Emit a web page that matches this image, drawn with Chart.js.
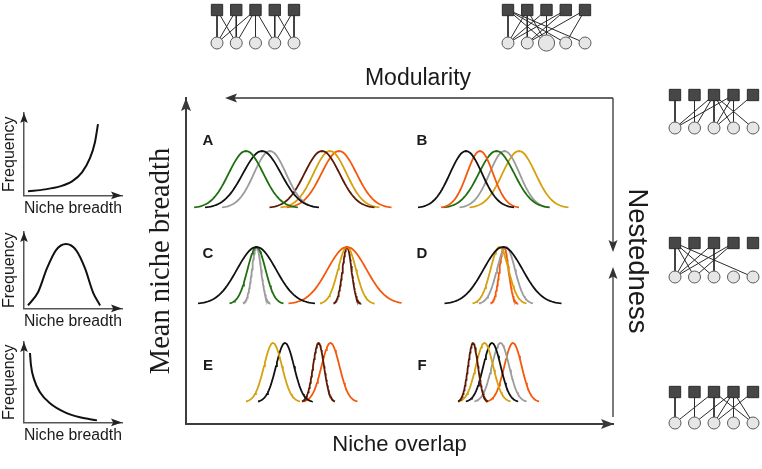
<!DOCTYPE html>
<html>
<head>
<meta charset="utf-8">
<script src="https://cdn.jsdelivr.net/npm/chart.js@4.4.1/dist/chart.umd.min.js"></script>
<style>
html,body{margin:0;padding:0;background:#fff;}
#stage{position:relative;width:762px;height:469px;overflow:hidden;background:#fff;}
#stage canvas{position:absolute;}
.lbl{position:absolute;font-family:"Liberation Sans",Arial,sans-serif;color:#1a1a1a;line-height:1;transform:translate(-50%,-50%);white-space:nowrap;}
.pl{font-weight:bold;font-size:15px;}
</style>
</head>
<body>
<div id="stage"></div>
<script>
// ---------------- DATA ----------------
// Panel curves: niche position (mean) and niche width (sd) of each species
const A_species = ['green','black','gray','brown','gold','orange'];
const A_mean    = [5.6, 7.2, 8.0, 13.2, 14.0, 14.9];
const A_sd      = [1.73, 1.9, 1.6, 1.75, 1.65, 1.75];

const B_species = ['black','orange','green','gray','gold'];
const B_mean    = [6.1, 7.5, 9.15, 9.95, 11.4];
const B_sd      = [1.6, 1.3, 1.77, 1.5, 1.65];

const C_species = ['black','green','gray','orange','gold','brown'];
const C_mean    = [6.65, 6.65, 6.65, 15.7, 15.7, 15.7];
const C_sd      = [1.95, 0.9, 0.45, 1.95, 0.9, 0.45];

const D_species = ['black','gold','gray','orange'];
const D_mean    = [9.8, 9.45, 10.1, 9.9];
const D_sd      = [1.95, 0.9, 0.9, 0.45];

const E_species = ['gold','black','brown','orange'];
const E_mean    = [8.3, 9.5, 12.85, 14.05];
const E_sd      = [0.9, 0.9, 0.55, 0.9];

const F_species = ['brown','gold','black','gray','orange'];
const F_mean    = [6.8, 7.95, 8.7, 9.55, 10.8];
const F_sd      = [0.5, 0.87, 0.87, 0.87, 0.87];

// Left mini plots: frequency vs niche breadth (read points, 0..10 units)
const mini1_x = [0.41, 2.14, 3.67, 4.90, 5.92, 6.73, 7.24, 7.55];
const mini1_y = [0.49, 0.73, 1.10, 1.71, 2.80, 4.51, 6.46, 8.66];
const mini2_x = [0.41, 1.43, 2.35, 3.27, 4.29, 5.31, 6.22, 7.04, 7.76];
const mini2_y = [0.39, 2.11, 5.26, 7.63, 8.42, 7.63, 5.26, 2.11, 0.39];
const mini3_x = [0.61, 0.71, 1.02, 1.63, 2.65, 4.18, 5.71, 7.45];
const mini3_y = [8.63, 7.13, 5.38, 3.75, 2.38, 1.25, 0.63, 0.25];

// Networks: edges [animal (square) index, plant (circle) index]
const netTL_edges = [[1,1],[1,2],[2,1],[2,2],[3,1],[3,2],[3,3],[3,4],[4,4],[4,5],[5,4],[5,5]];
const netTR_edges = [[1,1],[1,3],[1,4],[1,5],[2,1],[2,2],[2,3],[3,1],[3,3],[4,1],[4,2],[5,2],[5,4]];
const netTR_circleWeight = [1,1,1.35,1,1];
const netR1_edges = [[1,1],[2,2],[3,1],[3,2],[3,3],[3,4],[3,5],[4,1],[4,3],[4,4],[5,3]];
const netR2_edges = [[1,1],[1,2],[1,3],[1,5],[2,1],[3,1],[3,3],[4,1],[4,2]];
const netR3_edges = [[1,1],[2,2],[3,1],[3,3],[3,5],[4,2],[4,3],[4,4],[4,5],[5,3]];

// ---------------- STYLE ----------------
const COLORS = {green:'#1f6f10', black:'#111111', gray:'#9b9b9b', brown:'#5a1905', gold:'#d5a10e', orange:'#f5580a'};
const SANS = '"Liberation Sans", Arial, Helvetica, sans-serif';
const SERIF = '"Liberation Serif", "Times New Roman", serif';

Chart.defaults.font.family = SANS;
Chart.defaults.animation = false;
Chart.defaults.responsive = false;
Chart.defaults.maintainAspectRatio = false;
Chart.defaults.plugins.legend.display = false;
Chart.defaults.plugins.tooltip.enabled = false;

const stage = document.getElementById('stage');
function makeCanvas(left, top, w, h){
  const c = document.createElement('canvas');
  c.width = w; c.height = h;
  c.style.left = left+'px'; c.style.top = top+'px';
  c.style.width = w+'px'; c.style.height = h+'px';
  stage.appendChild(c);
  return c;
}
function addText(text, x, y, cls, style){
  const d = document.createElement('div');
  d.className = 'lbl ' + (cls||'');
  d.textContent = text;
  d.style.left = x+'px'; d.style.top = y+'px';
  if (style) Object.assign(d.style, style);
  stage.appendChild(d);
}
function arrowHead(ctx, x, y, dx, dy, len, half, color){
  ctx.beginPath();
  ctx.moveTo(x, y);
  ctx.lineTo(x - dx*len - dy*half, y - dy*len + dx*half);
  ctx.lineTo(x - dx*len*0.8, y - dy*len*0.8);
  ctx.lineTo(x - dx*len + dy*half, y - dy*len - dx*half);
  ctx.closePath();
  ctx.fillStyle = color;
  ctx.fill();
}
const hidden = (min,max)=>({type:'linear', display:false, min, max});

// ---------------- MAIN FRAME ----------------
const frameArrows = {
  id:'frameArrows',
  afterDraw(chart){
    const {ctx, chartArea:a} = chart;
    ctx.save();
    arrowHead(ctx, a.left, a.top, 0, -1, 13, 5, '#3a3a3a');
    arrowHead(ctx, a.right+1, a.bottom, 1, 0, 13, 5, '#3a3a3a');
    ctx.strokeStyle = '#333'; ctx.lineWidth = 1.3;
    // Modularity arrow
    ctx.beginPath(); ctx.moveTo(a.right, a.top); ctx.lineTo(a.left+48, a.top); ctx.stroke();
    arrowHead(ctx, a.left+39, a.top, -1, 0, 12, 4.5, '#333');
    // Nestedness arrows
    ctx.beginPath(); ctx.moveTo(a.right, a.top); ctx.lineTo(a.right, a.top+146); ctx.stroke();
    arrowHead(ctx, a.right, a.top+154, 0, 1, 12, 4.5, '#333');
    ctx.beginPath(); ctx.moveTo(a.right, a.top+177); ctx.lineTo(a.right, a.bottom-7); ctx.stroke();
    arrowHead(ctx, a.right, a.top+169, 0, -1, 12, 4.5, '#333');
    ctx.restore();
  }
};
const noGrid = {display:false, drawTicks:false};
new Chart(makeCanvas(0,0,762,469), {
  type:'scatter',
  data:{datasets:[]},
  options:{
    layout:{padding:{left:144, right:108.6, top:98, bottom:10.8}},
    scales:{
      x:{type:'linear', position:'bottom', min:0, max:1, grid:noGrid, ticks:{display:false},
         border:{display:true, color:'#3d3d3d', width:2},
         title:{display:true, text:'Niche overlap', color:'#1a1a1a', font:{size:22}, padding:{top:7.8, bottom:0}}},
      y:{type:'linear', position:'left', min:0, max:1, grid:noGrid, ticks:{display:false},
         border:{display:true, color:'#3d3d3d', width:2},
         title:{display:true, text:'Mean niche breadth', color:'#1a1a1a', font:{family:SERIF, size:28.5}, padding:{top:0, bottom:7.8}}},
      y2:{type:'linear', position:'right', min:0, max:1, grid:noGrid, ticks:{display:false},
         border:{display:false},
         title:{display:true, text:'Nestedness', color:'#1a1a1a', font:{size:27.5}, padding:{top:0, bottom:7.4}}}
    }
  },
  plugins:[frameArrows]
});
addText('Modularity', 418, 77, '', {fontSize:'23px'});

// ---------------- PANELS ----------------
function gaussPoints(mean, sd){
  const pts = [], n = 60;
  for (let i=0;i<=n;i++){
    const x = mean - 3*sd + 6*sd*i/n;
    const z = (x-mean)/sd;
    pts.push({x, y:Math.exp(-0.5*z*z)});
  }
  return pts;
}
function panel(left, top, h, species, means, sds){
  new Chart(makeCanvas(left, top, 220, h), {
    type:'scatter',
    data:{datasets: species.map((s,i)=>({
      data: gaussPoints(means[i], sds[i]),
      showLine:true, borderColor:COLORS[s], borderWidth:1.8,
      pointRadius:0, fill:false, clip:false
    }))},
    options:{
      layout:{padding:{left:5, right:5, top:6, bottom:6}},
      scales:{x:hidden(0,21), y:hidden(0,1)}
    }
  });
}
panel(185, 145, 69, A_species, A_mean, A_sd);
panel(400, 145, 69, B_species, B_mean, B_sd);
panel(185, 241, 69, C_species, C_mean, C_sd);
panel(400, 241, 69, D_species, D_mean, D_sd);
panel(185, 337, 71, E_species, E_mean, E_sd);
panel(400, 337, 71, F_species, F_mean, F_sd);

addText('A', 208, 139, 'pl');
addText('B', 422, 139, 'pl');
addText('C', 208, 252, 'pl');
addText('D', 422, 252, 'pl');
addText('E', 208, 364, 'pl');
addText('F', 422, 364, 'pl');

// ---------------- MINI DISTRIBUTIONS ----------------
const miniArrows = {
  id:'miniArrows',
  afterDraw(chart){
    const {ctx, chartArea:a} = chart;
    ctx.save();
    arrowHead(ctx, a.left, a.top, 0, -1, 10, 3.8, '#222');
    arrowHead(ctx, a.right, a.bottom, 1, 0, 11, 3.8, '#222');
    ctx.restore();
  }
};
function mini(top, h, xs, ys){
  new Chart(makeCanvas(0, top, 132, h), {
    type:'scatter',
    data:{datasets:[{
      data: xs.map((x,i)=>({x, y:ys[i]})),
      showLine:true, borderColor:'#111', borderWidth:2, pointRadius:0,
      cubicInterpolationMode:'monotone', fill:false, clip:false
    }]},
    options:{
      layout:{padding:{left:0, right:10, top:8, bottom:0}},
      scales:{
        x:{type:'linear', min:0, max:10, grid:noGrid, ticks:{display:false},
           border:{display:true, color:'#555', width:1.5},
           title:{display:true, text:'Niche breadth', color:'#1a1a1a', font:{size:16}, padding:{top:3.4, bottom:0}}},
        y:{type:'linear', min:0, max:10, grid:noGrid, ticks:{display:false},
           border:{display:true, color:'#555', width:1.5},
           title:{display:true, text:'Frequency', color:'#1a1a1a', font:{size:16}, padding:{top:0.4, bottom:4.4}}}
      }
    },
    plugins:[miniArrows]
  });
}
mini(105, 113, mini1_x, mini1_y);
mini(224, 107, mini2_x, mini2_y);
mini(334, 111, mini3_x, mini3_y);

// ---------------- NETWORKS ----------------
function network(x1, spanX, ySq, spanY, edges, circleWeight){
  const w = spanX + 20, h = spanY + 20;
  const ds = [];
  const sq = [1,2,3,4,5].map(i=>({x:i, y:1}));
  const ci = [1,2,3,4,5].map(i=>({x:i, y:0}));
  ds.push({data:sq, pointStyle:'rect', pointRadius:8, backgroundColor:'#474747', borderColor:'#2b2b2b', borderWidth:1, order:0, clip:false});
  ds.push({data:ci, pointStyle:'circle', pointRadius:(circleWeight||[1,1,1,1,1]).map(k=>6*k),
           backgroundColor:'#e6e6e6', borderColor:'#5a5a5a', borderWidth:1, order:0, clip:false});
  edges.forEach(([s,c])=>{
    ds.push({data:[{x:s,y:1},{x:c,y:0}], showLine:true, borderColor:'#2a2a2a', borderWidth:1, pointRadius:0, order:1, clip:false});
  });
  new Chart(makeCanvas(x1-10, ySq-10, w, h), {
    type:'scatter',
    data:{datasets:ds},
    options:{
      layout:{padding:10},
      scales:{x:hidden(1,5), y:hidden(0,1)}
    }
  });
}
network(217, 77, 10, 33, netTL_edges);
network(508, 77, 10, 33, netTR_edges, netTR_circleWeight);
network(675, 78, 95, 33, netR1_edges);
network(675, 78, 243, 34, netR2_edges);
network(675, 78, 392, 31, netR3_edges);
</script>
</body>
</html>
